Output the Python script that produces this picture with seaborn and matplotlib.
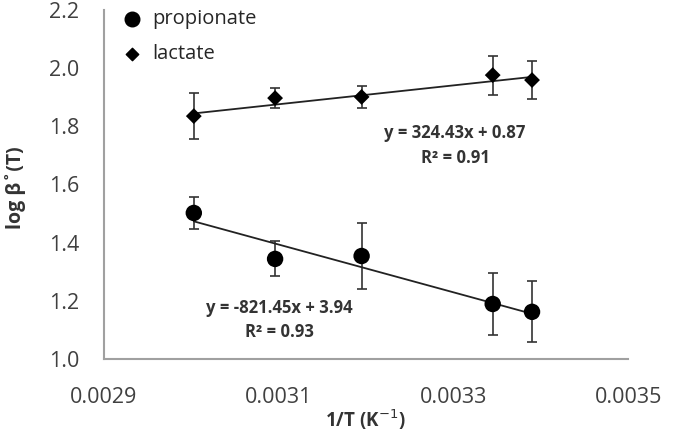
import numpy as np
import pandas as pd
import seaborn as sns
import matplotlib.pyplot as plt

# data
inv_T = [0.003003, 0.003096, 0.003195, 0.003345, 0.003390]
propionate = [1.502, 1.344, 1.354, 1.189, 1.162]
propionate_err = [0.056, 0.060, 0.112, 0.108, 0.105]
lactate = [1.835, 1.897, 1.901, 1.976, 1.959]
lactate_err = [0.078, 0.035, 0.037, 0.067, 0.065]

# linear fits as printed on the chart
prop_fit = (-821.45, 3.94, 0.93)
lact_fit = (324.43, 0.87, 0.91)

x_ticks = [0.0029, 0.0031, 0.0033, 0.0035]
y_ticks = [1.0, 1.2, 1.4, 1.6, 1.8, 2.0, 2.2]

df = pd.DataFrame({
    'inv_T': inv_T * 2,
    'logb': propionate + lactate,
    'err': propionate_err + lactate_err,
    'ligand': ['propionate'] * 5 + ['lactate'] * 5,
})

sns.set_style('white')
plt.rcParams['font.family'] = ['Open Sans', 'DejaVu Sans']

fig = plt.figure(figsize=(6.74, 4.33), dpi=100)
ax = fig.add_axes([0.154, 0.171, 0.778, 0.806])

# error bars
for name in ['propionate', 'lactate']:
    sub = df[df['ligand'] == name]
    ax.errorbar(sub['inv_T'], sub['logb'], yerr=sub['err'], fmt='none',
                ecolor='#333333', elinewidth=1.2, capsize=3.5, capthick=1.2, zorder=2)

# trend lines
xs = np.array([min(inv_T), max(inv_T)])
for m, b, _ in [prop_fit, lact_fit]:
    ax.plot(xs, m * xs + b, color='#222222', lw=1.3, zorder=3)

sns.scatterplot(data=df, x='inv_T', y='logb', style='ligand', hue='ligand',
                markers={'propionate': 'o', 'lactate': 'D'},
                palette={'propionate': 'black', 'lactate': 'black'},
                size='ligand', sizes={'propionate': 140, 'lactate': 65},
                edgecolor='black', linewidth=0, ax=ax, zorder=4, legend=False)

# legend entries
ax.scatter([], [], marker='o', s=110, color='black', label='propionate')
ax.scatter([], [], marker='D', s=40, color='black', label='lactate')
ax.legend(loc='upper left', frameon=False, fontsize=14.5, handletextpad=0.0,
          borderaxespad=0.0, labelspacing=0.75, bbox_to_anchor=(0.0, 1.025))

txt = dict(ha='center', va='center', fontsize=12, fontweight='bold', color='#333333')
ax.text(0.003302, 1.777, f'y = {lact_fit[0]}x + {lact_fit[1]}', **txt)
ax.text(0.003302, 1.691, f'R² = {lact_fit[2]}', **txt)
ax.text(0.003101, 1.175, f'y = {prop_fit[0]}x + {prop_fit[1]}', **txt)
ax.text(0.003101, 1.092, f'R² = {prop_fit[2]}', **txt)

ax.set_xlim(0.0029, 0.0035)
ax.set_ylim(1.0, 2.2)
ax.set_xticks(x_ticks)
ax.set_xticklabels([f'{v:.4f}' for v in x_ticks])
ax.set_yticks(y_ticks)
ax.set_yticklabels([f'{v:.1f}' for v in y_ticks])
ax.tick_params(axis='both', labelsize=15.5, colors='#999999', labelcolor='#404040',
               width=1.2, direction='out')
ax.tick_params(axis='x', length=6, pad=14)
ax.tick_params(axis='y', length=6.5, pad=11)

sns.despine(ax=ax)
for s in ['left', 'bottom']:
    ax.spines[s].set_color('#a0a0a0')
    ax.spines[s].set_linewidth(1.5)

ax.set_xlabel('1/T (K$^{-1}$)', fontsize=13.5, fontweight='bold', color='#333333')
ax.xaxis.set_label_coords(0.498, (433 - 420 - 73.9) / 349, transform=ax.transAxes)
ax.set_ylabel('log β˚(T)', fontsize=14, fontweight='bold', color='#333333')
ax.yaxis.set_label_coords(-0.168, 0.49, transform=ax.transAxes)
ax.xaxis.label.set_va('center')
ax.yaxis.label.set_va('center')

fig.savefig('out.png', dpi=100)
